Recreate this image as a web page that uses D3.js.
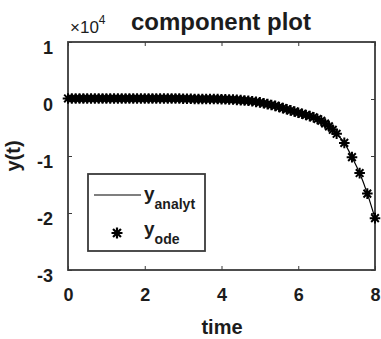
<!DOCTYPE html>
<html><head><meta charset="utf-8">
<script src="https://cdn.jsdelivr.net/npm/d3@7"></script>
<style>body{margin:0;background:#fff}svg{display:block}text{font-family:"Liberation Sans",Arial,sans-serif}</style>
</head><body><div id="c"></div>
<script>
// data (y values in units of 1e4)
const tAnalyt = [0,0.2,0.4,0.6,0.8,1.0,1.2,1.4,1.6,1.8,2.0,2.2,2.4,2.6,2.8,3.0,3.2,3.4,3.6,3.8,4.0,4.2,4.4,4.6,4.8,5.0,5.2,5.4,5.6,5.8,6.0,6.2,6.4,6.6,6.8,7.0,7.2,7.4,7.6,7.8,8.0];
const yAnalyt = [0.01,0.01,0.01,0.01,0.01,0.01,0.01,0.01,0.01,0.01,0.01,0.01,0.01,0.01,0.01,0.005,0.005,0.0,0.0,0.0,-0.005,-0.01,-0.015,-0.025,-0.04,-0.06,-0.09,-0.12,-0.16,-0.20,-0.24,-0.28,-0.32,-0.38,-0.48,-0.61,-0.77,-1.02,-1.30,-1.66,-2.09];
const tOde = [0,0.1,0.2,0.3,0.4,0.5,0.6,0.7,0.8,0.9,1.0,1.1,1.2,1.3,1.4,1.5,1.6,1.7,1.8,1.9,2.0,2.1,2.2,2.3,2.4,2.5,2.6,2.7,2.8,2.9,3.0,3.1,3.2,3.3,3.4,3.5,3.6,3.7,3.8,3.9,4.0,4.1,4.2,4.3,4.4,4.5,4.6,4.7,4.8,4.9,5.0,5.1,5.2,5.3,5.4,5.5,5.6,5.7,5.8,5.9,6.0,6.1,6.2,6.3,6.4,6.5,6.6,6.7,6.8,6.9,7.0,7.2,7.4,7.6,7.8,8.0];
const yOde = [0.01,0.01,0.01,0.01,0.01,0.01,0.01,0.01,0.01,0.01,0.01,0.01,0.01,0.01,0.01,0.01,0.01,0.01,0.01,0.01,0.01,0.01,0.01,0.01,0.01,0.01,0.01,0.01,0.01,0.01,0.005,0.005,0.005,0.0,0.0,0.0,0.0,0.0,0.0,0.0,-0.005,-0.005,-0.01,-0.01,-0.015,-0.02,-0.025,-0.03,-0.04,-0.05,-0.06,-0.075,-0.09,-0.105,-0.12,-0.14,-0.16,-0.18,-0.20,-0.22,-0.24,-0.26,-0.28,-0.30,-0.32,-0.35,-0.38,-0.43,-0.48,-0.54,-0.61,-0.77,-1.02,-1.30,-1.66,-2.09];
const xTicks = [0,2,4,6,8];
const yTicks = [-3,-2,-1,0,1];
const legendLabels = [["y","analyt"],["y","ode"]];

const W=381,H=339;
const svg=d3.select("#c").append("svg").attr("width",W).attr("height",H);
const x=d3.scaleLinear().domain([0,8]).range([68,375]);
const y=d3.scaleLinear().domain([-3,1]).range([270,42]);
const axCol="#3a3a3a", txtCol="#1c1c1c";

function styleAxis(g,hide){
  g.select(".domain").remove();
  g.selectAll(".tick line").attr("stroke",axCol).attr("stroke-width",1);
  g.selectAll(".tick text").attr("fill",txtCol).style("font-size","18px").style("font-weight","bold");
  if(hide) g.selectAll(".tick text").remove();
}
svg.append("g").attr("transform","translate(0,270)")
  .call(d3.axisBottom(x).tickValues(xTicks).tickSize(-4).tickPadding(18).tickFormat(d3.format("d")))
  .call(g=>styleAxis(g,false));
svg.append("g").attr("transform","translate(0,42)")
  .call(d3.axisTop(x).tickValues(xTicks).tickSize(-4).tickFormat(""))
  .call(g=>styleAxis(g,true));
svg.append("g").attr("transform","translate(68,0)")
  .call(d3.axisLeft(y).tickValues(yTicks).tickSize(-4).tickPadding(15).tickFormat(d=>d<0?"-"+Math.abs(d):d))
  .call(g=>styleAxis(g,false))
  .call(g=>g.selectAll(".tick text").attr("dy","0.65em").attr("y",0));
svg.append("g").attr("transform","translate(375,0)")
  .call(d3.axisRight(y).tickValues(yTicks).tickSize(-4).tickFormat(""))
  .call(g=>styleAxis(g,true));

// box
svg.append("rect").attr("x",x(0)).attr("y",y(1)).attr("width",x(8)-x(0)).attr("height",y(-3)-y(1))
  .attr("fill","none").attr("stroke",axCol).attr("stroke-width",1.8);

// analytic line
const line=d3.line().x((d,i)=>x(tAnalyt[i])).y(d=>y(d)).curve(d3.curveMonotoneX);
svg.append("path").datum(yAnalyt).attr("d",line).attr("fill","none").attr("stroke","#000").attr("stroke-width",1.2);

// asterisk marker
function star(s){
  const a=s*0.72;
  return `M${-s},0L${s},0M0,${-s}L0,${s}M${-a},${-a}L${a},${a}M${-a},${a}L${a},${-a}`;
}
svg.append("g").selectAll("path").data(yOde).join("path")
  .attr("transform",(d,i)=>`translate(${x(tOde[i])},${y(d)})`)
  .attr("d",star(5.3)).attr("stroke","#000").attr("stroke-width",2).attr("fill","none");

// legend
const lg=svg.append("g");
lg.append("rect").attr("x",88).attr("y",174).attr("width",117).attr("height",77)
  .attr("fill","#fff").attr("stroke",axCol).attr("stroke-width",1.8);
lg.append("line").attr("x1",94).attr("x2",141).attr("y1",195).attr("y2",195).attr("stroke","#000").attr("stroke-width",1.2);
lg.append("path").attr("transform","translate(117,233)").attr("d",star(5.5)).attr("stroke","#000").attr("stroke-width",2.2);
legendLabels.forEach((l,i)=>{
  const t=lg.append("text").attr("x",144).attr("y",[200,235][i]).attr("fill",txtCol)
    .style("font-size","19px").style("font-weight","bold");
  t.append("tspan").text(l[0]);
  t.append("tspan").attr("dy",9).style("font-size","14px").text(l[1]);
});

// title & labels
svg.append("text").attr("x",70).attr("y",33).attr("fill",txtCol).style("font-size","17px")
  .html('×10<tspan dy="-9" style="font-size:12px">4</tspan>');
svg.append("text").attr("x",221).attr("y",30).attr("text-anchor","middle").attr("fill",txtCol)
  .style("font-size","24px").style("font-weight","bold").text("component plot");
svg.append("text").attr("x",222).attr("y",334).attr("text-anchor","middle").attr("fill",txtCol)
  .style("font-size","20px").style("font-weight","bold").text("time");
svg.append("text").attr("transform","translate(20,156) rotate(-90)").attr("text-anchor","middle").attr("fill",txtCol)
  .style("font-size","20px").style("font-weight","bold").text("y(t)");
</script></body></html>
